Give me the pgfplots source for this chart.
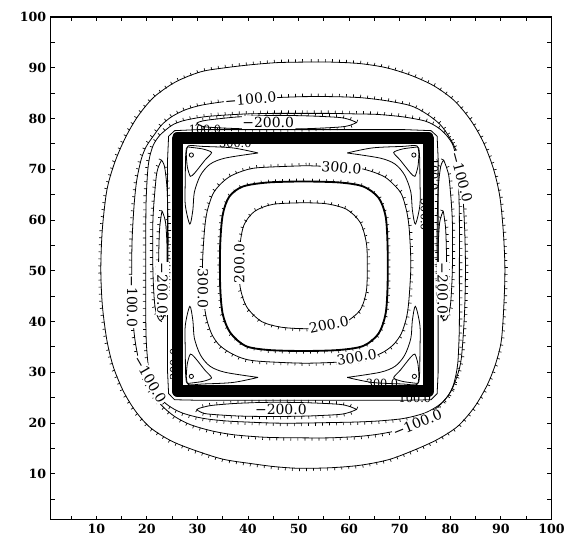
\documentclass[border=0pt]{standalone}
\usepackage{fontspec}
\setmainfont{DejaVu Serif}
\usepackage{pgfplots}
\usepackage{pgfplotstable}
\pgfplotsset{compat=1.18}
\usetikzlibrary{decorations.pathreplacing}
\tikzset{
  hachb/.style={draw=none, postaction={draw=black, line width=0.5pt, decorate, decoration={border, segment length=5.3pt, amplitude=2.2pt, angle=-90}}},
  lab/.style={font=\fontsize{10.5}{11}\selectfont, fill=white, inner sep=0.6pt},
  glab/.style={font=\fontsize{8.5}{9}\selectfont, inner sep=0pt},
}
% outermost contour
\pgfplotstableread{
x y
50.8 91.1
45.8 91.0
40.8 90.6
35.6 90.0
30.7 89.2
25.7 87.2
21.4 84.2
18.2 80.4
15.7 76.1
13.6 71.2
12.1 65.9
11.2 58.2
10.9 50.4
11.2 43.2
12.1 36.3
13.4 31.0
15.4 26.2
17.8 22.3
20.7 19.1
24.8 16.5
29.3 14.7
35.0 12.9
40.8 12.0
45.5 11.4
50.1 11.1
56.2 11.2
62.2 11.7
67.8 12.8
72.9 14.7
77.5 16.8
81.5 19.4
84.8 23.2
87.3 27.5
89.0 31.8
90.1 36.3
90.6 43.3
90.8 50.4
90.5 57.5
89.8 64.6
88.5 70.2
86.5 75.4
84.0 79.7
80.8 83.5
76.8 86.4
72.2 88.5
67.3 90.0
62.2 90.8
56.5 91.1
50.8 91.1
}\cOne
% -100 contour
\pgfplotstableread{
x y
50.8 84.3
45.4 84.1
40.0 83.8
35.2 83.3
30.7 82.6
27.6 81.7
25.0 80.4
23.0 78.8
21.4 76.7
19.9 74.5
18.9 72.0
18.0 67.8
17.5 63.2
17.1 56.5
17.0 49.7
17.1 43.5
17.5 37.6
18.2 33.3
19.3 29.5
20.8 26.2
22.9 23.5
25.5 21.3
28.6 19.7
32.7 18.5
37.2 17.7
43.6 17.2
50.1 17.1
56.2 17.1
62.2 17.4
66.3 17.9
70.1 18.7
73.2 20.0
75.8 21.8
78.2 23.8
80.1 26.2
81.4 29.4
82.2 32.9
82.8 41.3
83.0 49.7
82.9 56.5
82.6 63.2
82.2 68.0
81.5 72.7
80.0 76.0
78.0 78.8
75.3 80.9
72.2 82.5
67.3 83.5
62.2 84.1
56.5 84.3
50.8 84.3
}\cTwo
% contour round the troughs
\pgfplotstableread{
x y
50.8 81.0
45.4 81.0
40.0 80.9
36.0 80.7
32.0 80.4
29.3 80.0
27.0 79.5
25.2 78.8
23.8 77.8
22.4 76.5
21.3 74.8
20.6 72.6
20.2 70.0
19.9 65.0
19.8 60.0
19.8 50.0
19.8 40.0
19.9 35.8
20.2 32.0
20.6 29.4
21.3 27.2
22.4 25.3
23.8 23.8
25.3 22.8
27.0 22.0
29.4 21.3
32.0 20.8
36.0 20.4
40.0 20.2
45.4 20.0
50.8 20.0
56.0 20.1
61.0 20.2
65.5 20.4
70.0 20.8
72.6 21.3
75.0 22.0
76.6 22.8
78.1 23.8
79.5 25.3
80.5 27.2
81.1 29.4
81.5 32.0
81.7 35.8
81.8 40.0
81.8 50.0
81.8 60.0
81.7 65.0
81.5 70.0
81.1 72.6
80.5 74.8
79.4 76.5
78.1 77.8
76.6 78.8
75.0 79.5
72.6 80.0
70.0 80.4
65.5 80.8
61.0 80.9
56.0 81.0
50.8 81.0
}\cThree
% -200 troughs
\pgfplotstableread{
x y
61.5 79.2
60.0 79.8
58.0 80.2
52.0 80.5
45.0 80.6
38.0 80.3
33.0 79.8
31.0 79.5
29.9 79.1
30.6 78.6
32.0 78.3
38.0 78.0
45.0 77.9
52.0 78.0
58.0 78.3
60.0 78.6
61.5 79.2
}\tTop
\pgfplotstableread{
x y
61.5 22.7
60.0 23.3
58.0 23.7
52.0 24.0
45.0 24.1
38.0 23.9
33.0 23.5
31.0 23.1
29.9 22.7
30.6 22.2
32.0 21.8
38.0 21.4
45.0 21.3
52.0 21.4
58.0 21.7
60.0 22.1
61.5 22.7
}\tBot
\pgfplotstableread{
x y
22.9 71.8
22.2 70.2
21.8 68.0
21.2 60.0
21.2 50.0
21.6 43.0
22.5 40.3
23.5 41.5
24.1 48.0
24.2 58.0
24.0 66.0
23.5 70.5
22.9 71.8
}\tLa
\pgfplotstableread{
x y
23.0 61.8
22.5 58.0
22.3 50.0
22.4 44.0
22.9 41.0
23.5 41.5
23.9 46.0
24.0 54.0
23.7 59.5
23.0 61.8
}\tLb
\pgfplotstableread{
x y
78.7 71.8
78.1 70.5
77.6 66.0
77.4 58.0
77.5 48.0
78.1 41.5
79.1 40.3
80.0 43.0
80.4 50.0
80.4 60.0
79.8 68.0
79.3 70.2
78.7 71.8
}\tRa
\pgfplotstableread{
x y
78.6 61.8
77.9 59.5
77.6 54.0
77.7 46.0
78.1 41.5
78.7 41.0
79.2 44.0
79.3 50.0
79.1 58.0
78.6 61.8
}\tRb
% 300 contour
\pgfplotstableread{
x y
51.5 70.7
42.0 70.3
38.8 69.6
36.3 68.5
34.4 66.9
33.0 65.0
31.9 61.6
31.4 58.0
31.0 51.0
31.3 44.0
31.8 40.6
32.8 37.6
34.2 35.5
36.2 34.0
38.8 32.8
42.0 32.2
51.5 31.8
61.0 32.2
64.2 32.9
66.8 34.0
68.8 35.5
70.3 37.6
71.3 40.6
71.8 44.0
72.2 51.0
71.9 58.0
71.4 61.6
70.4 65.0
68.9 66.9
67.0 68.5
64.3 69.6
61.0 70.3
51.5 70.7
}\tThr
% thick contour
\pgfplotstableread{
x y
51.0 67.6
44.0 67.4
39.0 66.6
36.3 64.6
35.0 61.0
34.5 55.0
34.5 47.0
35.0 41.5
36.5 37.8
39.5 35.2
44.0 34.4
51.0 34.2
58.0 34.4
62.8 35.2
65.8 37.6
67.2 41.5
67.6 47.0
67.6 55.0
67.2 60.8
65.8 64.4
62.8 66.6
58.0 67.4
51.0 67.6
}\tThk
% 200 contour
\pgfplotstableread{
x y
51.0 63.4
45.0 63.1
41.3 61.7
39.2 59.0
38.4 55.0
38.2 51.0
38.5 46.5
39.8 42.8
42.7 40.0
46.5 38.9
51.0 38.6
55.5 38.8
59.3 39.9
62.2 42.3
63.4 46.0
63.6 51.0
63.4 55.5
62.2 59.5
59.5 62.1
55.5 63.2
51.0 63.4
}\tTwo
\begin{document}
\begin{tikzpicture}
\begin{axis}[
  scale only axis, width=377.25pt, height=378.75pt,
  xmin=1, xmax=100, ymin=1, ymax=100,
  xtick={10,20,...,100}, ytick={10,20,...,100},
  minor xtick={5,15,...,95}, minor ytick={5,15,...,95},
  tick align=inside, major tick length=3pt, minor tick length=3pt,
  tick style={line width=0.7pt, black},
  axis line style={line width=0.9pt},
  ticklabel style={font=\fontsize{9.5}{10}\selectfont\bfseries},
  /pgf/number format/assume math mode=true,
  clip=false,
]
% hachured contours: smooth line plus its ticks
\addplot[black, line width=0.6pt, smooth] table {\cOne};
\addplot[hachb] table {\cOne};
\addplot[black, line width=0.6pt, smooth] table {\cTwo};
\addplot[hachb] table {\cTwo};
\addplot[black, line width=0.6pt, smooth] table {\cThree};
\addplot[hachb] table {\cThree};
\addplot[black, line width=0.6pt, smooth] table {\tTop};
\addplot[hachb] table {\tTop};
\addplot[black, line width=0.6pt, smooth] table {\tBot};
\addplot[hachb] table {\tBot};
\addplot[black, line width=0.6pt, smooth] table {\tLa};
\addplot[hachb] table {\tLa};
\addplot[black, line width=0.6pt, smooth] table {\tLb};
\addplot[hachb] table {\tLb};
\addplot[black, line width=0.6pt, smooth] table {\tRa};
\addplot[hachb] table {\tRa};
\addplot[black, line width=0.6pt, smooth] table {\tRb};
\addplot[hachb] table {\tRb};
% band outline
\addplot[black, line width=0.6pt] coordinates {
(50.8,77.8)(30,77.8)(25.5,77.6)(24.3,76.5)(24.1,72)(24.1,30)(24.3,25.8)(25.5,24.6)(30,24.5)(71,24.5)(76.2,24.6)(77.4,25.8)(77.6,30)(77.6,72)(77.4,76.5)(76.2,77.6)(71,77.8)(50.8,77.8)};
% thick band
\addplot[black, line width=8.5pt, line join=round] coordinates {
(50,76.15)(75.7,76.15)(75.7,26.3)(26,26.3)(26,76.15)(52,76.15)};
% corner lobes
\addplot[black, line width=0.6pt, smooth] coordinates {
(42.0,73.2)(37,74.2)(31,74.5)(28.2,74.6)(27.7,73)(27.6,68)(27.6,63)(28.5,59.2)(29.1,62)(29.4,65.5)(30.6,68.8)(32.5,71)(35.5,72.2)(42.0,73.2)};
\addplot[black, line width=0.6pt, smooth] coordinates {
(59.6,73.2)(64.6,74.2)(70.6,74.5)(73.4,74.6)(73.9,73)(74.0,68)(74.0,63)(73.1,59.2)(72.5,62)(72.2,65.5)(71.0,68.8)(69.1,71)(66.1,72.2)(59.6,73.2)};
\addplot[black, line width=0.6pt, smooth] coordinates {
(42.0,29.0)(37,28.0)(31,27.7)(28.2,27.6)(27.7,29.2)(27.6,34.2)(27.6,39.2)(28.5,43.0)(29.1,40.2)(29.4,36.7)(30.6,33.4)(32.5,31.2)(35.5,30.0)(42.0,29.0)};
\addplot[black, line width=0.6pt, smooth] coordinates {
(59.6,29.0)(64.6,28.0)(70.6,27.7)(73.4,27.6)(73.9,29.2)(74.0,34.2)(74.0,39.2)(73.1,43.0)(72.5,40.2)(72.2,36.7)(71.0,33.4)(69.1,31.2)(66.1,30.0)(59.6,29.0)};
% corner triangles
\addplot[black, line width=0.6pt, smooth, tension=0.4] coordinates {
(28.0,74.4)(31.0,74.0)(32.8,73.3)(31.5,71.8)(29.5,69.3)(28.6,68.6)(28.0,70.5)(27.8,73.0)(28.0,74.4)};
\addplot[black, line width=0.6pt, smooth, tension=0.4] coordinates {
(73.6,74.4)(70.6,74.0)(68.8,73.3)(70.1,71.8)(72.1,69.3)(73.0,68.6)(73.6,70.5)(73.8,73.0)(73.6,74.4)};
\addplot[black, line width=0.6pt, smooth, tension=0.4] coordinates {
(28.0,27.8)(31.0,28.2)(32.8,28.9)(31.5,30.4)(29.5,32.9)(28.6,33.6)(28.0,31.7)(27.8,29.2)(28.0,27.8)};
\addplot[black, line width=0.6pt, smooth, tension=0.4] coordinates {
(73.6,27.8)(70.6,28.2)(68.8,28.9)(70.1,30.4)(72.1,32.9)(73.0,33.6)(73.6,31.7)(73.8,29.2)(73.6,27.8)};
\addplot[black, only marks, mark=o, mark size=1.6pt, mark options={line width=0.6pt}] coordinates {(28.8,72.8)(72.8,72.8)(28.8,29.2)(72.9,29.2)};
% inner contours
\addplot[black, line width=0.6pt, smooth] table {\tThr};
\addplot[hachb] table {\tThr};
\addplot[black, line width=1.4pt, smooth] table {\tThk};
\addplot[hachb] table {\tThk};
\addplot[black, line width=0.6pt, smooth] table {\tTwo};
\addplot[hachb] table {\tTwo};
% labels
\node[lab, rotate=5] at (axis cs:40.5,83.8) {−100.0};
\node[lab, rotate=-90] at (axis cs:17.1,44) {−100.0};
\node[lab, rotate=-60] at (axis cs:20.6,28.6) {−100.0};
\node[lab, rotate=-75] at (axis cs:82.2,68.5) {−100.0};
\node[lab, rotate=22] at (axis cs:73.5,20.0) {−100.0};
\node[lab] at (axis cs:44,79.2) {−200.0};
\node[lab] at (axis cs:46.5,22.7) {−200.0};
\node[lab, rotate=-90] at (axis cs:23.1,46.5) {−200.0};
\node[lab, rotate=-90] at (axis cs:78.5,46.5) {−200.0};
\node[lab, rotate=-5] at (axis cs:58.5,70.3) {300.0};
\node[lab, rotate=-90] at (axis cs:31.1,46.5) {300.0};
\node[lab, rotate=10] at (axis cs:61.5,33.0) {300.0};
\node[lab, rotate=90] at (axis cs:38.3,51.5) {200.0};
\node[lab, rotate=12] at (axis cs:56,39.4) {200.0};
% overlapping labels on the band
\node[glab] at (axis cs:31.5,77.8) {100.0};
\node[glab] at (axis cs:37.5,75.0) {300.0};
\node[glab, rotate=-90] at (axis cs:76.8,69.0) {100.0};
\node[glab, rotate=-90] at (axis cs:75.0,61.0) {300.0};
\node[glab, rotate=90] at (axis cs:25.4,31.5) {300.0};
\node[glab, rotate=90] at (axis cs:26.3,38.5) {100.0};
\node[glab] at (axis cs:66.5,27.9) {300.0};
\node[glab] at (axis cs:73.0,24.9) {100.0};
\end{axis}
\path (current axis.south west) ++(-38.25pt,-12.75pt);
\path (current axis.north east) ++(11.25pt,12.75pt);
\end{tikzpicture}
\end{document}
